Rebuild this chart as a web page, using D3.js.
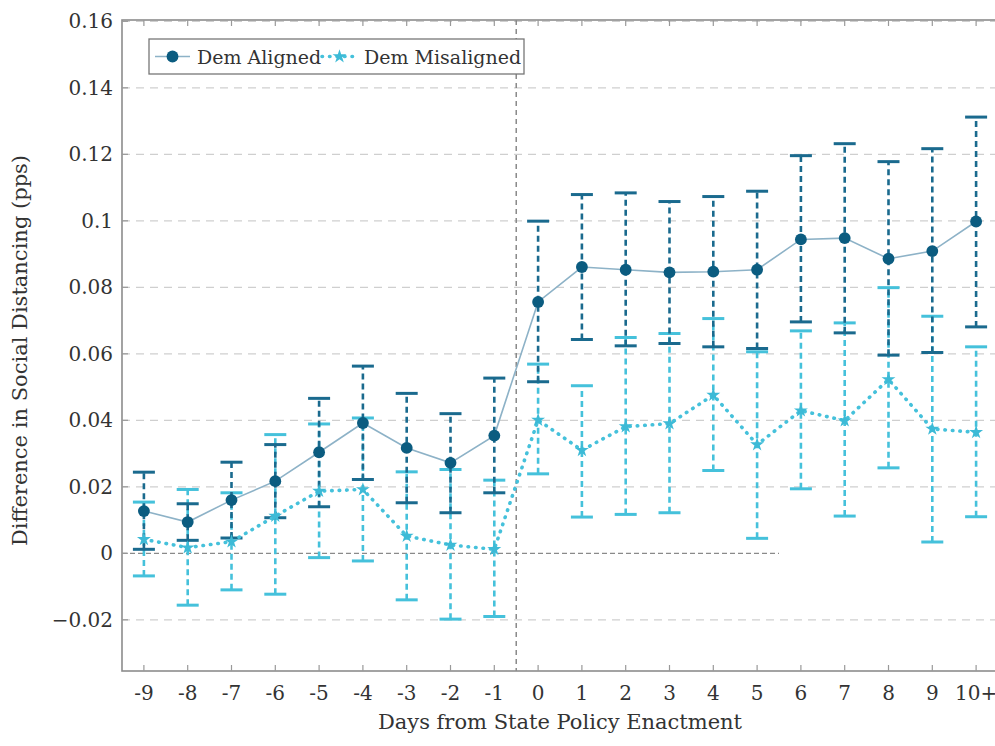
<!DOCTYPE html>
<html>
<head>
<meta charset="utf-8">
<script src="https://cdn.jsdelivr.net/npm/d3@7/dist/d3.min.js"></script>
<style>
  html, body { margin: 0; padding: 0; background: #fff; }
</style>
</head>
<body>
<div id="chart"></div>
<script>
// ── Data ───────────────────────────────────────────────────────────────────
const days = ['-9','-8','-7','-6','-5','-4','-3','-2','-1','0','1','2','3','4','5','6','7','8','9','10+'];

const alignedMean = [0.0127, 0.0094, 0.0160, 0.0217, 0.0304, 0.0392, 0.0317, 0.0272, 0.0354,
  0.0756, 0.0861, 0.0853, 0.0845, 0.0847, 0.0853, 0.0944, 0.0948, 0.0886, 0.0909, 0.0998];
const alignedHi = [0.0244, 0.0149, 0.0274, 0.0327, 0.0466, 0.0563, 0.0481, 0.0420, 0.0527,
  0.0999, 0.1079, 0.1084, 0.1058, 0.1073, 0.1089, 0.1196, 0.1232, 0.1178, 0.1217, 0.1312];
const alignedLo = [0.0012, 0.0039, 0.0046, 0.0107, 0.0140, 0.0222, 0.0152, 0.0122, 0.0182,
  0.0516, 0.0643, 0.0624, 0.0631, 0.0621, 0.0616, 0.0696, 0.0663, 0.0596, 0.0604, 0.0681];

const misMean = [0.0042, 0.0017, 0.0035, 0.0112, 0.0187, 0.0192, 0.0052, 0.0025, 0.0012,
  0.0401, 0.0310, 0.0381, 0.0390, 0.0476, 0.0327, 0.0429, 0.0399, 0.0523, 0.0374, 0.0364];
const misHi = [0.0154, 0.0192, 0.0182, 0.0357, 0.0389, 0.0407, 0.0245, 0.0252, 0.0220,
  0.0569, 0.0504, 0.0649, 0.0661, 0.0706, 0.0606, 0.0669, 0.0693, 0.0799, 0.0713, 0.0621];
const misLo = [-0.0068, -0.0156, -0.0110, -0.0123, -0.0013, -0.0023, -0.0140, -0.0198, -0.0190,
  0.0239, 0.0109, 0.0117, 0.0122, 0.0249, 0.0045, 0.0194, 0.0112, 0.0257, 0.0034, 0.0110];

const yTicks = [-0.02, 0, 0.02, 0.04, 0.06, 0.08, 0.1, 0.12, 0.14, 0.16];

const SERIES = [
  { name: 'Dem Aligned',    mean: alignedMean, hi: alignedHi, lo: alignedLo,
    bar: '#1a6a8e', line: '#8db2c7', mark: '#0b5c80', dotted: false },
  { name: 'Dem Misaligned', mean: misMean, hi: misHi, lo: misLo,
    bar: '#45c1db', line: '#45c1db', mark: '#3dbad6', dotted: true },
];

const FONT = '"DejaVu Serif", serif';

// ── Layout ─────────────────────────────────────────────────────────────────
const W = 995, H = 746;
const L = 122, R = 998, T = 20, B = 671;

const svg = d3.select('#chart').append('svg').attr('width', W).attr('height', H)
  .style('display', 'block').attr('font-family', FONT);

const x = d3.scalePoint().domain(days).range([L, R]).padding(0.5);
const y = d3.scaleLinear().domain([-0.0354, 0.1604]).range([B, T]);
const step = x.step();

// ── Grid ──
svg.append('g').selectAll('line')
  .data(yTicks.filter(v => v !== 0))
  .join('line')
  .attr('x1', L).attr('x2', R)
  .attr('y1', d => y(d)).attr('y2', d => y(d))
  .attr('stroke', '#cfcfcf').attr('stroke-width', 1.2)
  .attr('stroke-dasharray', '8,6');

// zero line (ends half a step after day 5)
svg.append('line')
  .attr('x1', L).attr('x2', x('5') + step / 2)
  .attr('y1', y(0)).attr('y2', y(0))
  .attr('stroke', '#8a8a8a').attr('stroke-width', 1.3)
  .attr('stroke-dasharray', '5,3');

// policy enactment line
svg.append('line')
  .attr('x1', x('-1') + step / 2).attr('x2', x('-1') + step / 2)
  .attr('y1', T).attr('y2', B)
  .attr('stroke', '#777').attr('stroke-width', 1.3)
  .attr('stroke-dasharray', '5,4');

// ── Frame + ticks ──
svg.append('rect')
  .attr('x', L).attr('y', T).attr('width', R - L).attr('height', B - T)
  .attr('fill', 'none').attr('stroke', '#8c8c8c').attr('stroke-width', 1.6);

const tickG = svg.append('g').attr('stroke', '#999').attr('stroke-width', 1.2);
for (const d of days) {
  tickG.append('line').attr('x1', x(d)).attr('x2', x(d)).attr('y1', B).attr('y2', B - 6);
  tickG.append('line').attr('x1', x(d)).attr('x2', x(d)).attr('y1', T).attr('y2', T + 6);
}
for (const v of yTicks) {
  tickG.append('line').attr('x1', L).attr('x2', L + 6).attr('y1', y(v)).attr('y2', y(v));
}

// tick labels
svg.append('g').selectAll('text')
  .data(days).join('text')
  .attr('x', d => x(d)).attr('y', B + 29)
  .attr('text-anchor', 'middle')
  .attr('font-family', FONT)
  .attr('font-size', '20px').attr('fill', '#333')
  .text(d => d);

const fmt = d3.format('~g');
svg.append('g').selectAll('text')
  .data(yTicks).join('text')
  .attr('x', L - 9).attr('y', d => y(d) + 7)
  .attr('text-anchor', 'end')
  .attr('font-family', FONT)
  .attr('font-size', '20px').attr('fill', '#333')
  .text(d => fmt(d));

// axis titles
svg.append('text')
  .attr('x', 560).attr('y', 729)
  .attr('text-anchor', 'middle')
  .attr('font-family', FONT)
  .attr('font-size', '21px').attr('fill', '#333')
  .text('Days from State Policy Enactment');

svg.append('text')
  .attr('transform', `translate(27,${(T + B) / 2 + 5}) rotate(-90)`)
  .attr('text-anchor', 'middle')
  .attr('font-family', FONT)
  .attr('font-size', '21px').attr('fill', '#333')
  .text('Difference in Social Distancing (pps)');

// ── Series ──
const capW = 11;

function drawSeries(s) {
  const g = svg.append('g');
  // error bars
  s.mean.forEach((m, i) => {
    const cx = x(days[i]);
    g.append('line')
      .attr('x1', cx).attr('x2', cx).attr('y1', y(s.lo[i])).attr('y2', y(s.hi[i]))
      .attr('stroke', s.bar).attr('stroke-width', 2.6).attr('stroke-dasharray', '6,4');
    for (const v of [s.lo[i], s.hi[i]]) {
      g.append('line')
        .attr('x1', cx - capW).attr('x2', cx + capW).attr('y1', y(v)).attr('y2', y(v))
        .attr('stroke', s.bar).attr('stroke-width', 3);
    }
  });
}

function marker(s) {
  return s.dotted ? d3.symbol(d3.symbolStar, 60) : d3.symbol(d3.symbolCircle, 110);
}

function drawLine(s) {
  const g = svg.append('g');
  const line = d3.line().x((d, i) => x(days[i])).y(d => y(d));
  g.append('path')
    .attr('d', line(s.mean))
    .attr('fill', 'none')
    .attr('stroke', s.line)
    .attr('stroke-width', s.dotted ? 3.6 : 1.6)
    .attr('stroke-linecap', s.dotted ? 'round' : 'butt')
    .attr('stroke-dasharray', s.dotted ? '0.5,7' : null);

  g.selectAll('path.m')
    .data(s.mean).join('path')
    .attr('class', 'm')
    .attr('transform', (d, i) => `translate(${x(days[i])},${y(d)})`)
    .attr('d', marker(s))
    .attr('fill', s.mark);
}

drawSeries(SERIES[1]);
drawSeries(SERIES[0]);
drawLine(SERIES[1]);
drawLine(SERIES[0]);

// ── Legend ──
const lg = svg.append('g');
lg.append('rect')
  .attr('x', 149).attr('y', 39).attr('width', 375).attr('height', 35)
  .attr('fill', '#fff').attr('stroke', '#777').attr('stroke-width', 1.3);

const legendItems = [
  { s: SERIES[0], x0: 155, tx: 197 },
  { s: SERIES[1], x0: 322, tx: 364 },
];
for (const it of legendItems) {
  const ly = 56.5;
  lg.append('line')
    .attr('x1', it.x0).attr('x2', it.x0 + 35).attr('y1', ly).attr('y2', ly)
    .attr('stroke', it.s.line)
    .attr('stroke-width', it.s.dotted ? 3.6 : 1.6)
    .attr('stroke-linecap', it.s.dotted ? 'round' : 'butt')
    .attr('stroke-dasharray', it.s.dotted ? '0.5,7' : null);
  lg.append('path')
    .attr('transform', `translate(${it.x0 + 17.5},${ly})`)
    .attr('d', marker(it.s))
    .attr('fill', it.s.mark);
  lg.append('text')
    .attr('x', it.tx).attr('y', ly + 7)
    .attr('font-family', FONT)
    .attr('font-size', '19px').attr('fill', '#333')
    .text(it.s.name);
}
</script>
</body>
</html>
